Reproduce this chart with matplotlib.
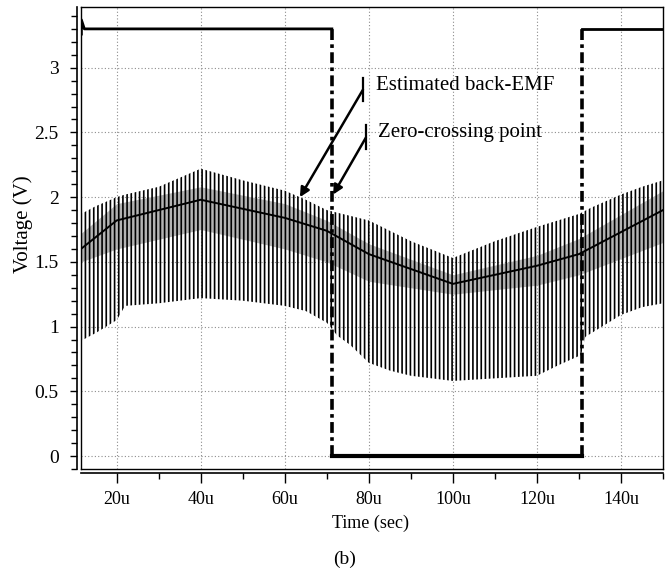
import numpy as np
import matplotlib
matplotlib.use('Agg')
import matplotlib.pyplot as plt
from matplotlib.ticker import MultipleLocator, FuncFormatter

plt.rcParams['font.family'] = ['Liberation Serif', 'DejaVu Serif']
plt.rcParams['hatch.linewidth'] = 1.2
plt.rcParams['hatch.color'] = 'black'

# time axis in microseconds
# PWM ripple envelope (tops / bottoms of the vertical lines)
t_hi = [11.5, 15, 20, 22, 30, 40, 50, 60, 65, 70, 75, 80, 90, 100, 110, 120, 125, 130, 133, 140, 145, 150]
ripple_hi = [1.87, 1.93, 2.00, 2.02, 2.08, 2.22, 2.13, 2.05, 1.98, 1.90, 1.86, 1.82, 1.66, 1.53, 1.66, 1.77, 1.82, 1.87, 1.92, 2.02, 2.08, 2.13]
t_lo = [11.5, 15, 20, 22, 30, 40, 50, 60, 65, 70, 72.5, 75.5, 80, 85, 90, 100, 110, 120, 125, 130.5, 131.5, 135, 140, 145, 150]
ripple_lo = [0.89, 0.95, 1.05, 1.16, 1.18, 1.22, 1.20, 1.16, 1.12, 1.03, 0.93, 0.86, 0.72, 0.66, 0.62, 0.58, 0.60, 0.62, 0.70, 0.78, 0.92, 0.99, 1.09, 1.15, 1.18]

# estimated back-EMF and the grey band around it
t_emf = [11.5, 20, 40, 60, 70, 80, 100, 120, 130, 150]
emf = [1.60, 1.82, 1.98, 1.84, 1.74, 1.56, 1.33, 1.47, 1.56, 1.90]
band_hi = [1.72, 1.95, 2.08, 1.95, 1.82, 1.64, 1.40, 1.55, 1.68, 2.05]
band_lo = [1.50, 1.60, 1.75, 1.60, 1.50, 1.35, 1.25, 1.32, 1.40, 1.65]

# zero-crossing (square wave) signal
sq_t = [11.6, 11.6, 12.3, 71.2, 71.2, 130.8, 130.8, 150]
sq_v = [3.26, 3.37, 3.30, 3.30, 0.0, 0.0, 3.30, 3.30]
edges_t = [71.2, 130.8]

x_ticks = [20, 40, 60, 80, 100, 120, 140]
y_ticks = [0, 0.5, 1, 1.5, 2, 2.5, 3]

fig = plt.figure(figsize=(6.67, 5.74), dpi=100)
ax = fig.add_axes([0.1214, 0.183, 0.8726, 0.805])

ax.fill_between(t_emf, band_lo, band_hi, color='0.7', linewidth=0, zorder=2)
# ripple lines: vertical hatch inside the envelope (top edge forward, bottom edge back)
ax.fill(t_hi + t_lo[::-1], ripple_hi + ripple_lo[::-1],
        facecolor='none', edgecolor='black', hatch='||||', linewidth=0, zorder=3)
ax.plot(t_emf, emf, color='black', linewidth=1.4, zorder=4)

# square wave: flat parts solid, transitions dash-dot
ax.plot(sq_t[:4], sq_v[:4], color='black', linewidth=2, zorder=5)
ax.plot(sq_t[4:6], sq_v[4:6], color='black', linewidth=3, zorder=5)
ax.plot(sq_t[6:], sq_v[6:], color='black', linewidth=2, zorder=5)
ax.vlines(edges_t, 0, 3.3, colors='black', linewidth=2.6,
          linestyles=[(0, (3, 1.2, 1, 1.2))], zorder=5)

# annotations
notes = [('Estimated back-EMF', (63.6, 2.00), (78.6, 2.83), (2.74, 2.92), 2.86),
         ('Zero-crossing point', (71.5, 2.02), (79.3, 2.46), (2.37, 2.56), 2.50)]
for label, head, tail, bar, ty in notes:
    ax.annotate('', xy=head, xytext=tail,
                arrowprops=dict(arrowstyle='-|>', color='black', lw=1.8,
                                mutation_scale=14, shrinkA=0, shrinkB=0), zorder=6)
    ax.plot([tail[0], tail[0]], bar, color='black', linewidth=1.6, zorder=6)
    ax.text(tail[0] + 3.0, ty, label, fontsize=15, va='center', ha='left', zorder=6)

ax.set_xlim(11.5, 150)
ax.set_ylim(-0.1, 3.47)
ax.set_xticks(x_ticks)
ax.set_yticks(y_ticks)
ax.xaxis.set_minor_locator(MultipleLocator(10))
ax.yaxis.set_minor_locator(MultipleLocator(0.1))
ax.xaxis.set_major_formatter(FuncFormatter(lambda v, p: '%du' % v))
ax.yaxis.set_major_formatter(FuncFormatter(lambda v, p: '%g' % v))
ax.tick_params(axis='x', which='major', length=7, width=1, labelsize=13, pad=6)
ax.tick_params(axis='y', which='major', length=5, width=1, labelsize=14, pad=8)
ax.tick_params(which='minor', length=4, width=1)
ax.grid(True, which='major', linestyle=(0, (1, 2)), color='0.55', linewidth=0.8)
ax.set_axisbelow(True)

for s in ['left', 'bottom']:
    ax.spines[s].set_position(('outward', 3))
    ax.spines[s].set_linewidth(1.2)
for s in ['top', 'right']:
    ax.spines[s].set_linewidth(1.0)
# inner frame lines
ax.plot([0, 0], [0, 1], transform=ax.transAxes, color='black', linewidth=1.0, clip_on=False)
ax.plot([0, 1], [0, 0], transform=ax.transAxes, color='black', linewidth=1.0, clip_on=False)

ax.set_ylabel('Voltage (V)', fontsize=15)
ax.yaxis.set_label_coords(-0.082, 0.53)
ax.set_xlabel('Time (sec)', fontsize=13)
ax.xaxis.set_label_coords(0.497, -0.098)
fig.text(0.517, 0.025, '(b)', fontsize=14, ha='center', va='center')

plt.savefig('out.png', dpi=100)
